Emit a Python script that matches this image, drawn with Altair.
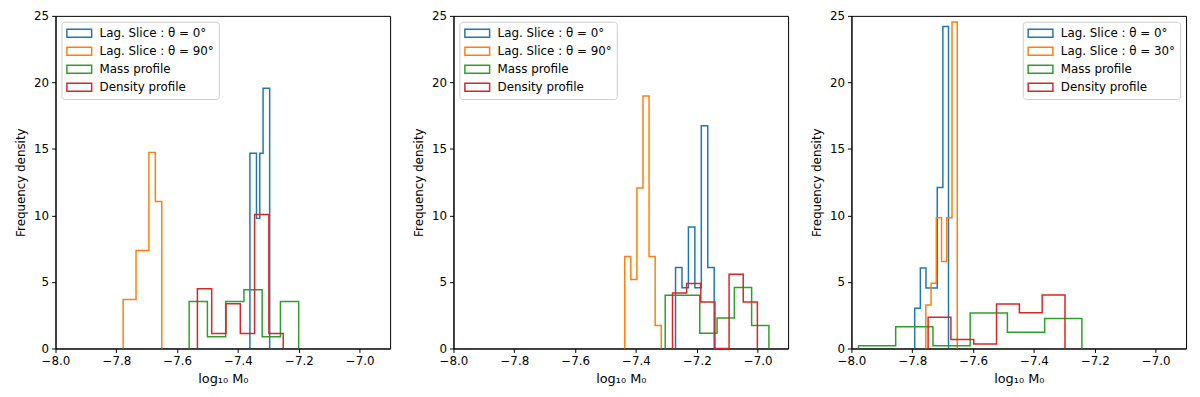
import altair as alt
import pandas as pd
import numpy as np

FONT = "DejaVu Sans"
COLORS = ["#1f77b4", "#ff7f0e", "#2ca02c", "#d62728"]

NAMES_AB = ["Lag. Slice : θ = 0°", "Lag. Slice : θ = 90°", "Mass profile", "Density profile"]
NAMES_C = ["Lag. Slice : θ = 0°", "Lag. Slice : θ = 30°", "Mass profile", "Density profile"]

XTICKS = [-8.0, -7.8, -7.6, -7.4, -7.2, -7.0]
YTICKS = [0, 5, 10, 15, 20, 25]

# Each histogram: [first bin edge, last bin edge] (equal-width bins) and bin heights
# Panel 1
p1_blue_range = [-7.361, -7.296]
p1_blue_heights = [14.67, 14.67, 9.78, 14.67, 19.56, 19.56]
p1_orange_range = [-7.7776, -7.6507]
p1_orange_heights = [3.69, 3.69, 7.37, 7.37, 14.74, 11.05]
p1_green_range = [-7.5607, -7.2006]
p1_green_heights = [3.54, 0.885, 3.54, 4.42, 0.885, 3.54]
p1_red_range = [-7.5336, -7.2515]
p1_red_heights = [4.49, 1.12, 3.37, 1.12, 10.08, 1.12]

# Panel 2
p2_blue_range = [-7.270, -7.143]
p2_blue_heights = [6.09, 4.57, 9.14, 4.57, 16.75, 6.09]
p2_orange_range = [-7.437, -7.317]
p2_orange_heights = [6.91, 5.18, 12.07, 18.98, 6.91, 1.73]
p2_green_range = [-7.304, -6.963]
p2_green_heights = [4.01, 4.01, 1.15, 2.29, 4.58, 1.72]
p2_red_range = [-7.280, -7.001]
p2_red_heights = [4.18, 4.88, 3.49, 0.0, 5.58, 3.49]

# Panel 3
p3_blue_range = [-7.792, -7.681]
p3_blue_heights = [3.03, 6.05, 4.54, 4.54, 12.1, 24.2]
p3_orange_range = [-7.7555, -7.6522]
p3_orange_heights = [3.27, 4.91, 9.82, 6.54, 9.82, 24.54]
p3_green_range = [-7.977, -7.2425]
p3_green_heights = [0.205, 1.64, 0.205, 2.67, 1.23, 2.26]
p3_red_range = [-7.748, -7.298]
p3_red_heights = [2.34, 0.67, 0.335, 3.35, 2.68, 4.02]


def steps(name, rng, heights):
    edges = np.linspace(rng[0], rng[1], len(heights) + 1)
    xs = [edges[0]] + list(edges[:-1]) + [edges[-1]]
    ys = [0.0] + list(heights) + [0.0]
    return pd.DataFrame({"x": xs, "y": ys, "series": name, "i": range(len(xs))})


def panel_df(names, specs):
    return pd.concat([steps(n, r, h) for n, (r, h) in zip(names, specs)], ignore_index=True)


df1 = panel_df(NAMES_AB, [(p1_blue_range, p1_blue_heights), (p1_orange_range, p1_orange_heights),
                          (p1_green_range, p1_green_heights), (p1_red_range, p1_red_heights)])
df2 = panel_df(NAMES_AB, [(p2_blue_range, p2_blue_heights), (p2_orange_range, p2_orange_heights),
                          (p2_green_range, p2_green_heights), (p2_red_range, p2_red_heights)])
df3 = panel_df(NAMES_C, [(p3_blue_range, p3_blue_heights), (p3_orange_range, p3_orange_heights),
                         (p3_green_range, p3_green_heights), (p3_red_range, p3_red_heights)])

# wide outlined rectangle (25 x 8 px at symbolSize 144), shifted right of the symbol slot
SYMBOL = "M-1,-0.6667H3.1667V0.6667H-1Z"
XLABEL = "datum.value < 0 ? '\u2212' + format(-datum.value, '.1f') : format(datum.value, '.1f')"


def panel(df, names, orient):
    return alt.Chart(df).mark_line(interpolate="step-after", strokeWidth=1.5).encode(
        x=alt.X("x:Q", scale=alt.Scale(domain=[-8.0, -6.9], nice=False, zero=False),
                axis=alt.Axis(values=XTICKS, labelExpr=XLABEL, title="log₁₀ M₀",
                              labelFlush=False, titleFontSize=13)),
        y=alt.Y("y:Q", scale=alt.Scale(domain=[0, 25], nice=False),
                axis=alt.Axis(values=YTICKS, format="d", title="Frequency density", labelFlush=False)),
        color=alt.Color("series:N", scale=alt.Scale(domain=names, range=COLORS),
                        legend=alt.Legend(title=None, orient=orient, offset=6)),
        order=alt.Order("i:Q"),
    ).properties(width=338, height=336)


chart = alt.hconcat(
    panel(df1, NAMES_AB, "top-left"),
    panel(df2, NAMES_AB, "top-left"),
    panel(df3, NAMES_C, "top-right"),
    spacing=64, bounds="flush",
).resolve_scale(color="independent").resolve_legend(color="independent").properties(
    padding={"left": 6, "top": -1, "right": 5, "bottom": 5}
).configure_view(
    stroke="black", strokeWidth=1
).configure_axis(
    domainColor="black", domainWidth=1, tickColor="black", tickWidth=1, tickSize=4,
    labelColor="black", titleColor="black", labelFont=FONT, titleFont=FONT,
    labelFontSize=12, titleFontSize=12, titleFontWeight="normal", grid=False,
    labelPadding=3, titlePadding=6,
).configure_legend(
    labelFont=FONT, labelFontSize=12, labelColor="black", labelOffset=20,
    symbolType=SYMBOL, symbolSize=144, symbolStrokeWidth=1.5, symbolFillColor="white",
    fillColor="white", strokeColor="#cccccc", strokeWidth=1, cornerRadius=3,
    padding=4.5, rowPadding=2.2,
)

chart.save("out.html", embed_options={"renderer": "svg", "actions": False})
